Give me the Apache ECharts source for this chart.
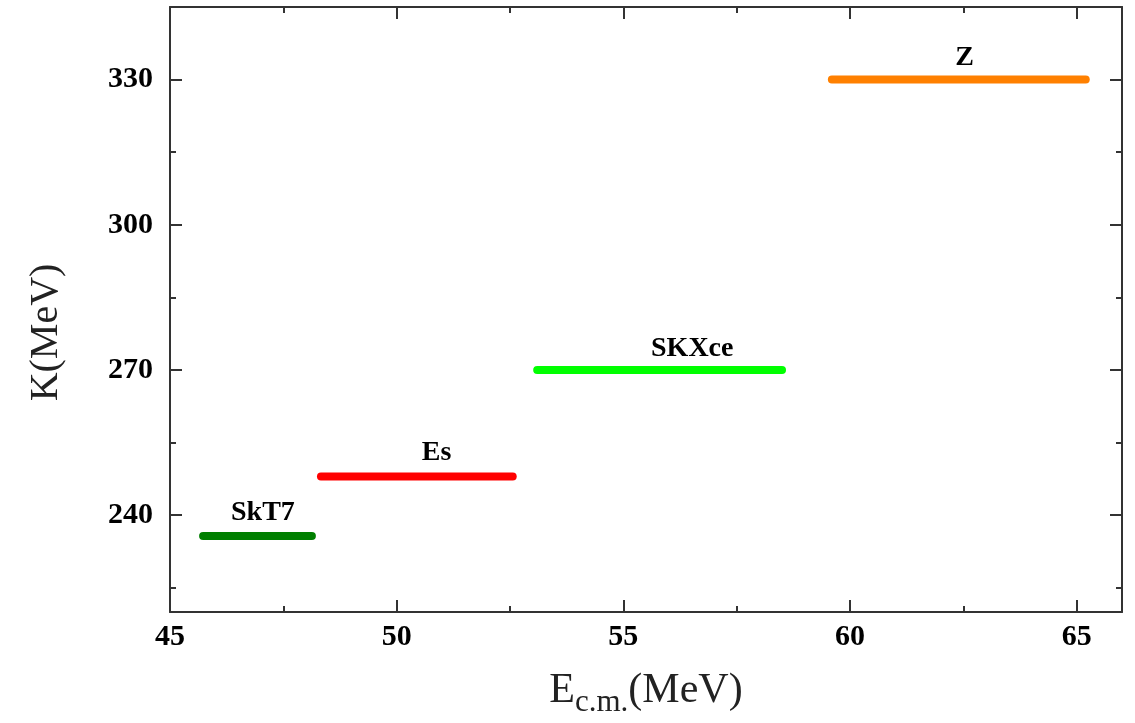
<!DOCTYPE html>
<html>
<head>
    <meta charset="utf-8">
    <title>K vs Ec.m.</title>
    <style>
        html, body { margin: 0; padding: 0; background: #fff; }
        #chart { width: 1135px; height: 723px; }
    </style>
</head>
<body>
    <div id="chart"></div>
    <script src="https://cdn.jsdelivr.net/npm/echarts@6/dist/echarts.min.js"></script>
    <script type="text/javascript">
        // data
        var names = ['SkT7', 'Es', 'SKXce', 'Z'];
        var xStart = [45.73, 48.33, 53.1, 59.6];
        var xEnd = [48.13, 52.56, 58.5, 65.2];
        var kValues = [235.7, 248, 270, 330];
        var labelX = [47.05, 50.88, 56.52, 62.53];
        var labelY = [240.4, 253, 274.3, 334.6];
        var colors = ['#007f00', '#ff0000', '#00ff00', '#ff8000'];

        var xMajor = [45, 50, 55, 60, 65];
        var xMinor = [47.5, 52.5, 57.5, 62.5];
        var yMajor = [240, 270, 300, 330];
        var yMinor = [225, 255, 285, 315];

        var serif = 'Liberation Serif';
        var axisColor = '#333';

        function tickAxis(dir, pos, ticks, len, showLine, labels) {
            var ax = {
                type: 'value',
                position: pos,
                min: dir === 'x' ? 45 : 220,
                max: dir === 'x' ? 66 : 345,
                axisLine: { show: showLine, onZero: false, lineStyle: { color: axisColor, width: 2 } },
                axisTick: { show: true, inside: true, length: len, customValues: ticks,
                    lineStyle: { color: axisColor, width: 2 } },
                axisLabel: { show: false },
                splitLine: { show: false }
            };
            if (labels) {
                ax.axisLabel = {
                    show: true, customValues: labels,
                    fontFamily: serif, fontWeight: 'bold', fontSize: 30, color: '#000',
                    margin: dir === 'x' ? 10 : 17
                };
            }
            return ax;
        }

        var xAxes = [
            tickAxis('x', 'bottom', xMajor, 12, true, xMajor),
            tickAxis('x', 'bottom', xMinor, 6, false),
            tickAxis('x', 'top', xMajor, 12, true),
            tickAxis('x', 'top', xMinor, 6, false)
        ];
        xAxes[0].name = '{e|E}{s|c.m.}{e|(MeV)}';
        xAxes[0].nameLocation = 'middle';
        xAxes[0].nameGap = 58;
        xAxes[0].nameTextStyle = {
            rich: {
                e: { fontFamily: serif, fontSize: 42, color: '#222' },
                s: { fontFamily: serif, fontSize: 31, color: '#222', verticalAlign: 'bottom', padding: [0, 0, -6, 0] }
            }
        };

        var yAxes = [
            tickAxis('y', 'left', yMajor, 12, true, yMajor),
            tickAxis('y', 'left', yMinor, 6, false),
            tickAxis('y', 'right', yMajor, 12, true),
            tickAxis('y', 'right', yMinor, 6, false)
        ];
        yAxes[0].name = 'K(MeV)';
        yAxes[0].nameLocation = 'middle';
        yAxes[0].nameGap = 104;
        yAxes[0].nameTextStyle = { fontFamily: serif, fontSize: 40, color: '#222', padding: [0, 0, 0, -46] };

        var series = [];
        for (var i = 0; i < names.length; i++) {
            series.push({
                name: names[i],
                type: 'line',
                symbol: 'none',
                data: [[xStart[i], kValues[i]], [xEnd[i], kValues[i]]],
                lineStyle: { color: colors[i], width: 8, cap: 'round' },
                silent: true
            });
        }
        var labelPoints = [];
        for (var j = 0; j < names.length; j++) {
            labelPoints.push({ name: names[j], value: [labelX[j], labelY[j]] });
        }
        series.push({
            type: 'scatter',
            symbolSize: 0,
            itemStyle: { opacity: 1 },
            data: labelPoints,
            label: {
                show: true, position: 'inside', formatter: '{b}',
                fontFamily: serif, fontWeight: 'bold', fontSize: 28, color: '#000',
                textBorderWidth: 0, opacity: 1
            },
            silent: true
        });

        var chart = echarts.init(document.getElementById('chart'));
        chart.setOption({
            animation: false,
            backgroundColor: '#fff',
            grid: { left: 170, right: 13, top: 7, bottom: 111, outerBoundsMode: 'none' },
            xAxis: xAxes,
            yAxis: yAxes,
            series: series
        });
    </script>
</body>
</html>
